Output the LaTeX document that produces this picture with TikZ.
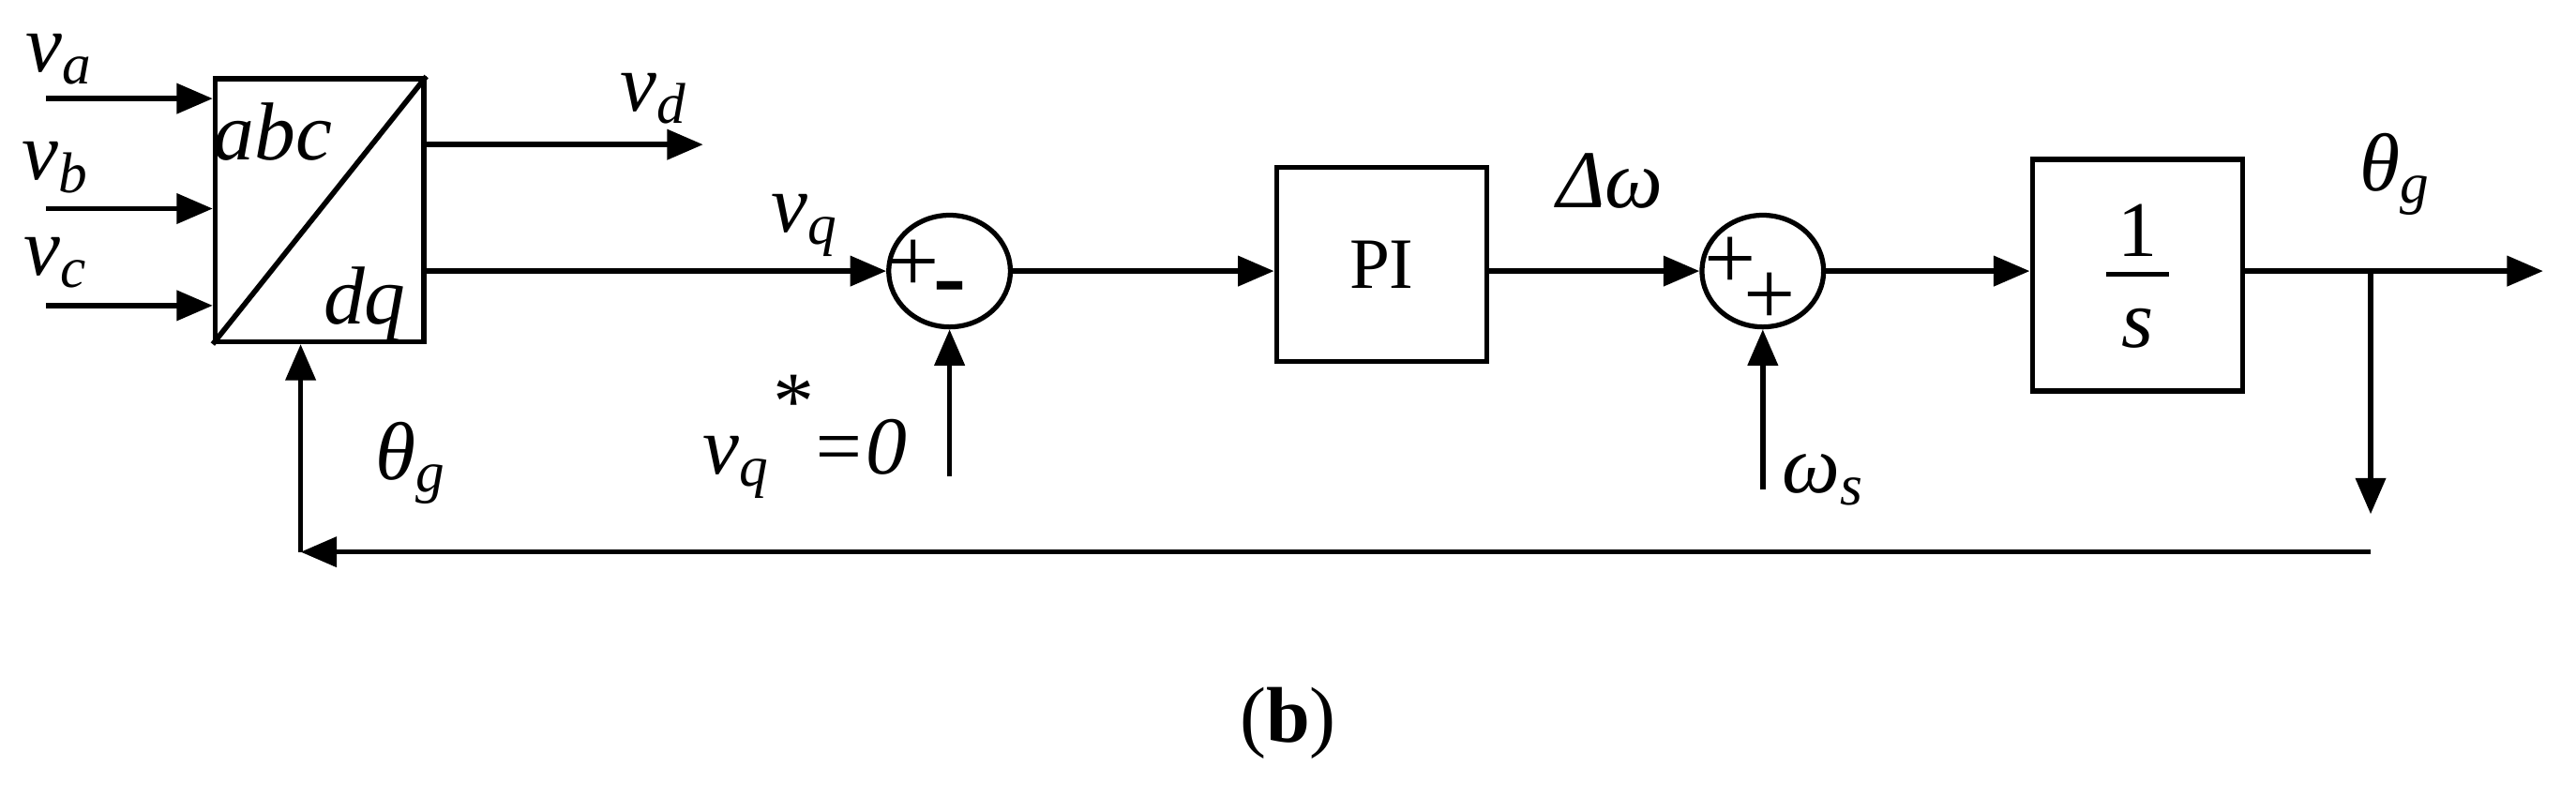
\documentclass[tikz,border=0pt]{standalone}
\usepackage{fontspec}
\setmainfont{Liberation Serif}
\usetikzlibrary{arrows.meta,shapes.geometric}
\newcommand{\mysub}[1]{\textsubscript{#1}}
\begin{document}
\begin{tikzpicture}[x=0.5pt,y=-0.5pt,
  every node/.style={font=\fontsize{22}{26}\selectfont},
  blk/.style={draw,line width=1.5pt,inner sep=0pt},
  sum/.style={draw,ellipse,line width=1.5pt,minimum width=37pt,minimum height=34pt,inner sep=0pt},
  ln/.style={line width=1.6pt},
  ar/.style={ln,-{Triangle[length=11pt,width=9pt]}},
  lab/.style={font=\fontsize{25}{28}\selectfont\itshape}]
\useasboundingbox (0,0) rectangle (1568,494);
\node[blk,minimum width=63.5pt,minimum height=80pt] (T) at (194.5,128) {};
\draw[ln] (T.south west) -- (T.north east);
\node[lab] at (166,80) {abc};
\node[lab] at (222,185) {dq};
\coordinate (ia) at (28,60); \coordinate (ib) at (28,127); \coordinate (ic) at (28,186);
\draw[ar] (ia) -- (ia -| T.west);
\draw[ar] (ib) -- (ib -| T.west);
\draw[ar] (ic) -- (ic -| T.west);
\node[lab] at (36,36) {v\mysub{a}};
\node[lab] at (34,102) {v\mysub{b}};
\node[lab] at (34,160) {v\mysub{c}};
\coordinate (vd) at (428,88);
\draw[ar] (vd -| T.east) -- (vd);
\node[lab] at (398,60) {v\mysub{d}};
\node[sum] (s1) at (578,165) {};
\node[font=\fontsize{28}{28}\selectfont] at (556,162) {+};
\node[font=\fontsize{30}{30}\selectfont\bfseries] at (578,180) {-};
\draw[ar] (T.east |- s1) -- (s1.west);
\node[lab] at (490,137) {v\mysub{q}};
\coordinate (vqs) at (578,290);
\draw[ar] (vqs) -- (s1.south);
\node[lab] at (490,266) {v\mysub{q}\raisebox{1.2ex}{*}=0};
\node[blk,minimum width=64pt,minimum height=59pt] (PI) at (841,161) {PI};
\node[sum] (s2) at (1073,165) {};
\node[font=\fontsize{28}{28}\selectfont] at (1053,160) {+};
\node[font=\fontsize{28}{28}\selectfont] at (1077,182) {+};
\draw[ar] (s1.east) -- (PI.west |- s1);
\draw[ar] (PI.east |- s2) -- (s2.west);
\node[lab] at (980,110) {Δω};
\coordinate (ws) at (1073,298);
\draw[ar] (ws) -- (s2.south);
\node[lab] at (1110,292) {ω\mysub{s}};
\node[blk,minimum width=64pt,minimum height=70.5pt] (I) at (1301,167.5) {};
\draw[ln] (1282,167) -- (1320,167);
\node[font=\fontsize{24}{28}\selectfont] at (1301,140) {1};
\node[lab] at (1301,200) {s};
\draw[ar] (s2.east) -- (I.west |- s2);
\coordinate (out) at (1548,165);
\coordinate (br) at (1443,165);
\draw[ar] (I.east |- out) -- (out);
\node[lab] at (1458,106) {θ\mysub{g}};
\coordinate (bd) at (1443,313);
\coordinate (bl) at (1443,336);
\coordinate (bt) at (183,336);
\draw[ar] (br) -- (bd);
\draw[ar] (bl) -- (bt);
\draw[ar] (bt) -- (bt |- T.south);
\node[lab] at (250,282) {θ\mysub{g}};
\node[font=\fontsize{24}{28}\selectfont] at (784,440) {(\textbf{b})};
\end{tikzpicture}
\end{document}
